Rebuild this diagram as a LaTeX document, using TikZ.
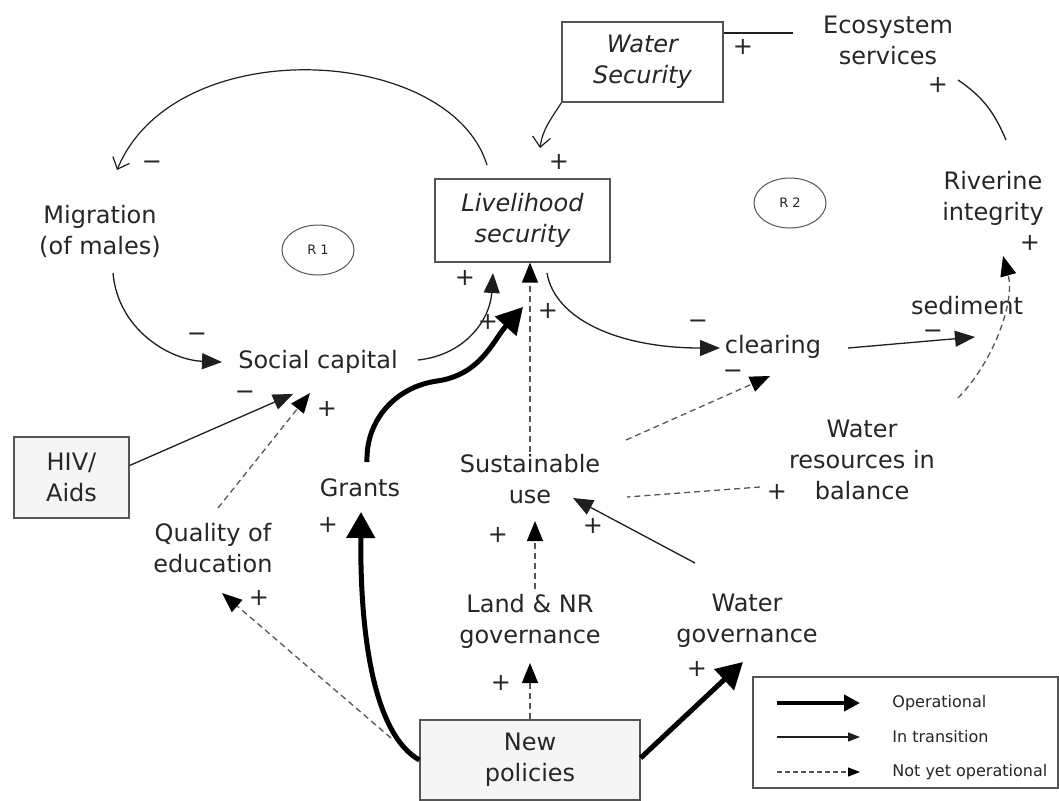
\documentclass[tikz,border=0pt]{standalone}
\usepackage{fontspec}
\setmainfont{DejaVu Sans}
\usetikzlibrary{arrows.meta,shapes.geometric}
\definecolor{txtc}{RGB}{38,38,38}
\definecolor{linec}{RGB}{30,30,30}
\definecolor{dashc}{RGB}{85,85,85}
\definecolor{boxfill}{RGB}{245,245,245}
\begin{document}
\begin{tikzpicture}[x=0.5pt,y=-0.5pt,
  lbl/.style={font=\fontsize{12}{15.5}\selectfont, text=txtc, align=center, inner sep=1pt},
  ilbl/.style={font=\fontsize{12}{15.5}\selectfont\itshape, text=txtc, align=center, inner sep=1pt},
  sgn/.style={font=\fontsize{12}{12}\selectfont, text=txtc, inner sep=0pt},
  legt/.style={font=\fontsize{8}{9}\selectfont, text=txtc, inner sep=0pt, anchor=west},
  boxw/.style={draw=dashc, line width=0.6pt, fill=white, inner sep=0pt},
  boxg/.style={draw=dashc, line width=0.6pt, fill=boxfill, inner sep=0pt},
  loopmark/.style={ellipse, draw=dashc, line width=0.5pt, font=\fontsize{6.5}{7}\selectfont, text=txtc, inner sep=0pt, minimum width=36pt, minimum height=25pt},
  opl/.style={draw=black, line width=2.5pt, -{Triangle[length=13pt,width=14pt]}},
  trl/.style={draw=linec, line width=0.65pt, -{Triangle[length=10pt,width=8pt]}},
  nyl/.style={draw=dashc, line width=0.65pt, dash pattern=on 3pt off 2pt, -{Triangle[length=10pt,width=8pt,color=black]}},
  plainl/.style={draw=linec, line width=0.65pt},
  nyplain/.style={draw=dashc, line width=0.65pt, dash pattern=on 3pt off 2pt},
  openl/.style={draw=linec, line width=0.6pt, -{Straight Barb[length=5pt,width=9pt]}},
]
\useasboundingbox (0,0) rectangle (1059,800);

% ---------- nodes ----------
\node[ilbl, boxw, minimum width=80.5pt, minimum height=40pt] (ws) at (642.5,62) {Water\\Security};
\node[lbl] (es) at (888,40) {Ecosystem\\services};
\node[lbl] (ri) at (993,198) {Riverine\\integrity};
\node[lbl] (sed) at (967,306) {sediment};
\node[lbl] (cl) at (773,347) {clearing};
\node[loopmark] (r2) at (790,203) {R 2};
\node[loopmark] (r1) at (318,250) {R 1};
\node[ilbl, boxw, minimum width=87.5pt, minimum height=41.5pt] (ls) at (522.5,220.5) {Livelihood\\security};
\node[lbl] (mig) at (100,231) {Migration\\(of males)};
\node[lbl] (sc) at (318,362) {Social capital};
\node[lbl, boxg, minimum width=57.5pt, minimum height=40.5pt] (hiv) at (71.5,477.5) {HIV/\\Aids};
\node[lbl] (qe) at (213,548) {Quality of\\education};
\node[lbl] (gr) at (360,488) {Grants};
\node[lbl] (su) at (530,479) {Sustainable\\use};
\node[lbl] (wrb) at (862,460) {Water\\resources in\\balance};
\node[lbl] (lnr) at (530,621) {Land \& NR\\governance};
\node[lbl] (wg) at (747,621) {Water\\governance};
\node[lbl, boxg, minimum width=110pt, minimum height=40pt] (np) at (530,760) {New\\policies};

% ---------- connector end points ----------
\coordinate (esL) at (793,33);
\coordinate (riT) at (1006,140);
\coordinate (esB) at (958,80);
\coordinate (lsA) at (540,148);
\coordinate (lsTL) at (487,165);
\coordinate (migT) at (117,170);
\coordinate (migB) at (113,273);
\coordinate (scW) at (222,362);
\coordinate (scE) at (418,360);
\coordinate (lsB1) at (493,273);
\coordinate (grT) at (367,462);
\coordinate (grMid) at (437,381);
\coordinate (lsB2) at (523,307);
\coordinate (lsBR) at (547,273);
\coordinate (clW) at (720,348);
\coordinate (clE) at (848,348);
\coordinate (sedW) at (975,337);
\coordinate (suNE) at (626,440);
\coordinate (clS) at (770,376);
\coordinate (wrbNE) at (958,398);
\coordinate (riB) at (1003,256);
\coordinate (scS1) at (293,394);
\coordinate (qeN) at (218,508);
\coordinate (scS2) at (310,393);
\coordinate (npW) at (391,738);
\coordinate (qeS) at (222,593);
\coordinate (grB) at (361,512);
\coordinate (lnrS) at (530,663);
\coordinate (lnrN) at (535,589);
\coordinate (suS) at (535,521);
\coordinate (wgS) at (743,662);
\coordinate (wgN) at (695,563);
\coordinate (suE) at (573,498);
\coordinate (wrbW) at (760,487);
\coordinate (suE2) at (627,497);

% ---------- connectors ----------
\draw[plainl] (esL) -- (esL -| ws.east);
\draw[plainl] (riT) to[out=113,in=-34] (esB);
\draw[openl] (ws.south west) to[out=-122,in=82] (lsA);
\draw[openl] (lsTL) .. controls (450,45) and (175,30) .. (migT);
\draw[trl] (migB) .. controls (118,330) and (170,360) .. (scW);
\draw[trl] (scE) .. controls (465,355) and (490,320) .. (lsB1);
\draw[opl] (grT) to[out=92,in=188] (grMid) to[out=8,in=228] (lsB2);
\draw[nyl] (su.north) -- (su.north |- ls.south);
\draw[trl] (lsBR) .. controls (555,320) and (620,348) .. (clW);
\draw[trl] (clE) -- (sedW);
\draw[nyl] (suNE) -- (clS);
\draw[nyl] (wrbNE) .. controls (995,360) and (1015,300) .. (riB);
\draw[trl] ([yshift=6pt]hiv.east) -- (scS1);
\draw[nyl] (qeN) -- (scS2);
\draw[nyl] (npW) -- (qeS);
\draw[opl] (np.west) .. controls (375,735) and (360,640) .. (grB);
\draw[nyl] (np.north) -- (lnrS);
\draw[nyl] (lnrN) -- (suS);
\draw[opl] ([yshift=1pt]np.east) -- (wgS);
\draw[trl] (wgN) -- (suE);
\draw[nyplain] (wrbW) -- (suE2);

% ---------- polarity signs ----------
\node[sgn] (p1) at (743,47) {+};
\node[sgn] (p2) at (938,85) {+};
\node[sgn] (p3) at (559,162) {+};
\node[sgn] (p4) at (1030,243) {+};
\node[sgn] (p5) at (152,165) {−};
\node[sgn] (p6) at (197,337) {−};
\node[sgn] (p7) at (465,278) {+};
\node[sgn] (p8) at (488,322) {+};
\node[sgn] (p9) at (548,311) {+};
\node[sgn] (p10) at (698,324) {−};
\node[sgn] (p11) at (733,374) {−};
\node[sgn] (p12) at (933,334) {−};
\node[sgn] (p13) at (245,395) {−};
\node[sgn] (p14) at (327,409) {+};
\node[sgn] (p15) at (328,525) {+};
\node[sgn] (p16) at (259,598) {+};
\node[sgn] (p17) at (498,535) {+};
\node[sgn] (p18) at (593,526) {+};
\node[sgn] (p19) at (501,683) {+};
\node[sgn] (p20) at (697,669) {+};
\node[sgn] (p21) at (777,492) {+};

% ---------- legend ----------
\node[draw=dashc, line width=0.6pt, fill=white, minimum width=152.5pt, minimum height=55.5pt, inner sep=0pt] (leg) at (905.5,732.5) {};
\coordinate (l1a) at (777,703); \coordinate (l1b) at (860,703);
\coordinate (l2a) at (777,737); \coordinate (l2b) at (860,737);
\coordinate (l3a) at (777,772); \coordinate (l3b) at (860,772);
\draw[black, line width=2.2pt, -{Triangle[length=8pt,width=8pt]}] (l1a) -- (l1b);
\draw[linec, line width=0.6pt, -{Triangle[length=6pt,width=4.5pt]}] (l2a) -- (l2b);
\draw[dashc, line width=0.6pt, dash pattern=on 2.5pt off 1.5pt, -{Triangle[length=6pt,width=4.5pt,color=black]}] (l3a) -- (l3b);
\node[legt] (lt1) at (892,703) {Operational};
\node[legt] (lt2) at (892,737) {In transition};
\node[legt] (lt3) at (892,772) {Not yet operational};
\end{tikzpicture}
\end{document}
